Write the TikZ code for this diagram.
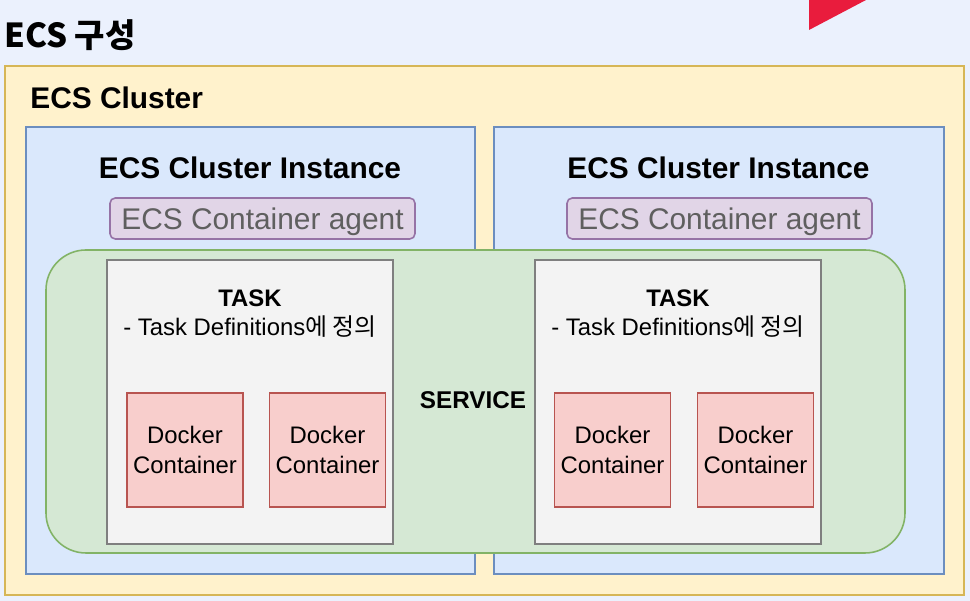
\documentclass[tikz,border=0pt]{standalone}
\usepackage{fontspec}
\setmainfont{Liberation Sans}
\newfontfamily\krfont{Noto Sans CJK KR}
\usetikzlibrary{positioning}

\definecolor{bgblue}{HTML}{EBF1FD}
\definecolor{clusterfill}{HTML}{FFF2CC}
\definecolor{clusterline}{HTML}{D6B656}
\definecolor{instfill}{HTML}{DAE8FC}
\definecolor{instline}{HTML}{6C8EBF}
\definecolor{svcfill}{HTML}{D5E8D4}
\definecolor{svcline}{HTML}{82B366}
\definecolor{taskfill}{HTML}{F3F3F3}
\definecolor{taskline}{HTML}{7F7F7F}
\definecolor{dockfill}{HTML}{F8CECC}
\definecolor{dockline}{HTML}{B85450}
\definecolor{agentfill}{HTML}{E1D5E7}
\definecolor{agentline}{HTML}{9673A6}
\definecolor{agenttext}{HTML}{5F5F5F}
\definecolor{flagred}{HTML}{E91C3D}

\tikzset{
	clusterbox/.style={draw=clusterline, fill=clusterfill, line width=0.9pt},
	instbox/.style={draw=instline, fill=instfill, line width=0.9pt},
	svcbox/.style={draw=svcline, fill=svcfill, line width=0.9pt, rounded corners=0.8cm},
	taskbox/.style={draw=taskline, fill=taskfill, line width=1pt},
	docker/.style={draw=dockline, fill=dockfill, line width=0.9pt, minimum width=2.32cm, minimum height=2.28cm, align=center, font=\fontsize{13.6}{17}\selectfont, inner sep=0pt},
	agent/.style={draw=agentline, fill=agentfill, line width=0.9pt, rounded corners=3pt, minimum width=6.1cm, minimum height=0.82cm, text=agenttext, font=\fontsize{17}{20}\selectfont, inner sep=0pt, text height=0.43cm, text depth=0cm},
	title/.style={font=\fontsize{17}{20}\selectfont\bfseries, inner sep=0pt},
	tasklabel/.style={align=center, inner sep=0pt}
}

\begin{document}
\begin{tikzpicture}
		% Background and corner mark
		\fill[bgblue] (0,0) rectangle (19.4,12.02);
		\useasboundingbox (0,0) rectangle (19.4,12.02);
		\fill[flagred] (16.18,12.02) -- (16.18,11.42) -- (17.32,12.02) -- cycle;

		% Page title
		\node[anchor=west, inner sep=0pt, font=\krfont\bfseries\fontsize{18.8}{22}\selectfont] (pagetitle) at (0.08,11.32) {ECS 구성};

		% Draw the cluster and the two instances
		\draw[clusterbox] (0.1,0.12) rectangle (19.28,10.7);
		\node[title, anchor=west] (clustertitle) at (0.6,10.06) {ECS Cluster};
		\draw[instbox] (0.52,0.54) rectangle (9.5,9.48);
		\draw[instbox] (9.88,0.54) rectangle (18.88,9.48);
		\node[title] (insttitleL) at (5.0,8.66) {ECS Cluster Instance};
		\node[title] (insttitleR) at (14.37,8.66) {ECS Cluster Instance};

		% Container agents
		\node[agent] (agentL) at (5.25,7.65) {ECS Container agent};
		\node[agent] (agentR) at (14.39,7.65) {ECS Container agent};

		% Draw the service spanning both instances
		\draw[svcbox] (0.92,0.96) rectangle (18.1,7.02);
		\node[font=\fontsize{13.8}{17}\selectfont\bfseries, inner sep=0pt] (service) at (9.46,4.02) {SERVICE};

		% Tasks
		\draw[taskbox] (2.14,1.14) rectangle (7.86,6.82);
		\draw[taskbox] (10.7,1.14) rectangle (16.42,6.82);
		\node[tasklabel, font=\fontsize{13.6}{17}\selectfont\bfseries] (taskL) at (5.0,6.06) {TASK};
		\node[tasklabel, font=\fontsize{13.6}{17}\selectfont] (taskdefL) at (5.0,5.48) {- Task Definitions{\krfont 에 정의}};
		\node[tasklabel, font=\fontsize{13.6}{17}\selectfont\bfseries] (taskR) at (13.56,6.06) {TASK};
		\node[tasklabel, font=\fontsize{13.6}{17}\selectfont] (taskdefR) at (13.56,5.48) {- Task Definitions{\krfont 에 정의}};

		% Docker containers inside each task
		\node[docker] (dockL1) at (3.7,3.02) {Docker\\Container};
		\node[docker] (dockL2) at (6.55,3.02) {Docker\\Container};
		\node[docker] (dockR1) at (12.25,3.02) {Docker\\Container};
		\node[docker] (dockR2) at (15.11,3.02) {Docker\\Container};

	\end{tikzpicture}
\end{document}
